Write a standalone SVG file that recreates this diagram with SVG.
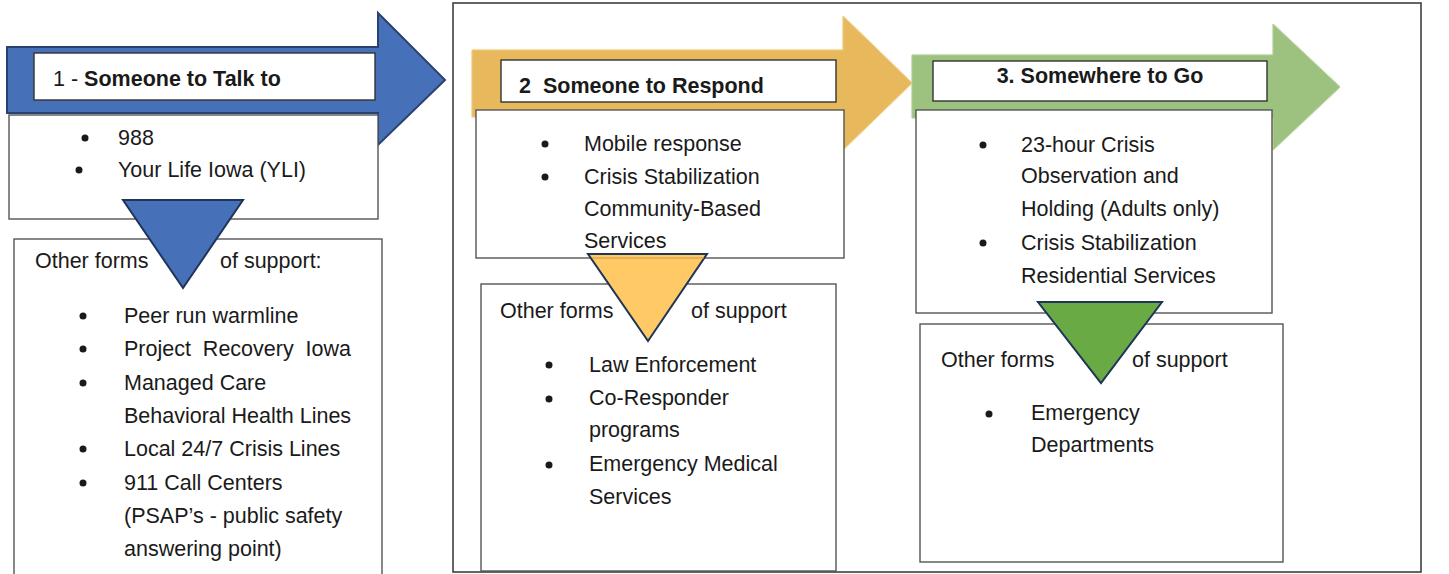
<svg xmlns="http://www.w3.org/2000/svg" width="1449" height="574" viewBox="0 0 1449 574">
<defs>
<style>
.t{font-family:"Liberation Sans",Arial,sans-serif;font-size:21.5px;fill:#1a1a1a}
.b{font-weight:bold}
.pre{white-space:pre}
.box{fill:#fff;stroke:#555;stroke-width:1.4}
.ttl{fill:#fff;stroke:#333;stroke-width:1.4}
.dot{fill:#1a1a1a}
.tri{stroke:#1f3558;stroke-width:2;stroke-linejoin:miter}
</style>
<filter id="soft" x="-5%" y="-10%" width="110%" height="120%"><feGaussianBlur stdDeviation="1.2"/></filter>
</defs>
<rect id="frame" x="453" y="3" width="968" height="569" fill="#fff" stroke="#333" stroke-width="1.5"/>
<g id="connectors">
<path id="arrow-blue" d="M7,47 L378,47 L378,13 L445,80 L378,145 L378,113 L7,113 Z" fill="#4670b8" stroke="#2a4272" stroke-width="2"/>
<path d="M472,50 L843,50 L843,16 L912,83 L843,150 L843,117 L472,117 Z" fill="#f3d99b" filter="url(#soft)"/>
<path id="arrow-yellow" d="M472,50 L843,50 L843,16 L912,83 L843,150 L843,117 L472,117 Z" fill="#e8b95c" stroke="#eccb84" stroke-width="1"/>
<path d="M912,55 L1273,55 L1273,24 L1340,87 L1273,150 L1273,118 L912,118 Z" fill="#c6ddb4" filter="url(#soft)"/>
<path id="arrow-green" d="M912,55 L1273,55 L1273,24 L1340,87 L1273,150 L1273,118 L912,118 Z" fill="#9dc27f" stroke="#b3d09b" stroke-width="1"/>
</g>
<g id="node-talk">
<rect class="ttl" x="34" y="53" width="341" height="47"/>
<text class="t" x="53" y="86">1 - <tspan class="b" font-size="21.5">Someone to Talk to</tspan></text>
</g>
<g id="node-talk-list">
<rect class="box" x="9" y="115" width="369" height="104"/>
<circle class="dot" cx="85" cy="138" r="3.5"/>
<text class="t" x="118" y="145">988</text>
<circle class="dot" cx="79" cy="170" r="3.5"/>
<text class="t" x="118" y="177">Your Life Iowa (YLI)</text>
</g>
<g id="node-talk-other">
<rect class="box" x="14" y="239" width="368" height="345"/>
<text class="t" x="35" y="268">Other forms</text>
<text class="t" x="220" y="268">of support:</text>
<circle class="dot" cx="83" cy="316" r="3.5"/>
<text class="t" x="124" y="323">Peer run warmline</text>
<circle class="dot" cx="83" cy="349" r="3.5"/>
<text class="t pre" x="124" y="356" xml:space="preserve">Project  Recovery  Iowa</text>
<circle class="dot" cx="83" cy="383" r="3.5"/>
<text class="t" x="124" y="390">Managed Care</text>
<text class="t" x="124" y="423">Behavioral Health Lines</text>
<circle class="dot" cx="83" cy="449" r="3.5"/>
<text class="t" x="124" y="456">Local 24/7 Crisis Lines</text>
<circle class="dot" cx="83" cy="483" r="3.5"/>
<text class="t" x="124" y="490">911 Call Centers</text>
<text class="t" x="124" y="523">(PSAP’s - public safety</text>
<text class="t" x="124" y="556">answering point)</text>
</g>
<g id="tri-blue">
<path class="tri" d="M123,200 L243,200 L183,288 Z" fill="#4670b8"/>
</g>
<g id="node-respond">
<rect class="ttl" x="501" y="60" width="335" height="42"/>
<text class="t b pre" x="519" y="93" font-size="21.5" xml:space="preserve">2  Someone to Respond</text>
</g>
<g id="node-respond-list">
<rect class="box" x="476" y="110" width="368" height="148"/>
<circle class="dot" cx="545" cy="144" r="3.5"/>
<text class="t" x="584" y="151">Mobile response</text>
<circle class="dot" cx="545" cy="177" r="3.5"/>
<text class="t" x="584" y="184">Crisis Stabilization</text>
<text class="t" x="584" y="216">Community-Based</text>
<text class="t" x="584" y="248">Services</text>
</g>
<g id="node-respond-other">
<rect class="box" x="481" y="284" width="355" height="287"/>
<text class="t" x="500" y="318">Other forms</text>
<text class="t" x="691" y="318">of support</text>
<circle class="dot" cx="549" cy="365" r="3.5"/>
<text class="t" x="589" y="372">Law Enforcement</text>
<circle class="dot" cx="549" cy="399" r="3.5"/>
<text class="t" x="589" y="405">Co-Responder</text>
<text class="t" x="589" y="437">programs</text>
<circle class="dot" cx="549" cy="465" r="3.5"/>
<text class="t" x="589" y="471">Emergency Medical</text>
<text class="t" x="589" y="504">Services</text>
</g>
<g id="tri-yellow">
<path class="tri" d="M588,254 L707,254 L648,341 Z" fill="#ffc966"/>
<line x1="592" y1="258" x2="704" y2="258" stroke="#c99a45" stroke-width="1"/>
</g>
<g id="node-go">
<rect class="ttl" x="933" y="61" width="334" height="40"/>
<text class="t b" x="1100" y="83" font-size="21.5" text-anchor="middle">3. Somewhere to Go</text>
</g>
<g id="node-go-list">
<rect class="box" x="916" y="110" width="356" height="203"/>
<circle class="dot" cx="983" cy="145" r="3.5"/>
<text class="t" x="1021" y="152">23-hour Crisis</text>
<text class="t" x="1021" y="183">Observation and</text>
<text class="t" x="1021" y="216">Holding (Adults only)</text>
<circle class="dot" cx="983" cy="243" r="3.5"/>
<text class="t" x="1021" y="250">Crisis Stabilization</text>
<text class="t" x="1021" y="283">Residential Services</text>
</g>
<g id="node-go-other">
<rect class="box" x="920" y="324" width="363" height="238"/>
<text class="t" x="941" y="367">Other forms</text>
<text class="t" x="1132" y="367">of support</text>
<circle class="dot" cx="989" cy="414" r="3.5"/>
<text class="t" x="1031" y="420">Emergency</text>
<text class="t" x="1031" y="452">Departments</text>
</g>
<g id="tri-green">
<path class="tri" d="M1038,302 L1162,302 L1101,383 Z" fill="#6aaa45"/>
</g>
</svg>
